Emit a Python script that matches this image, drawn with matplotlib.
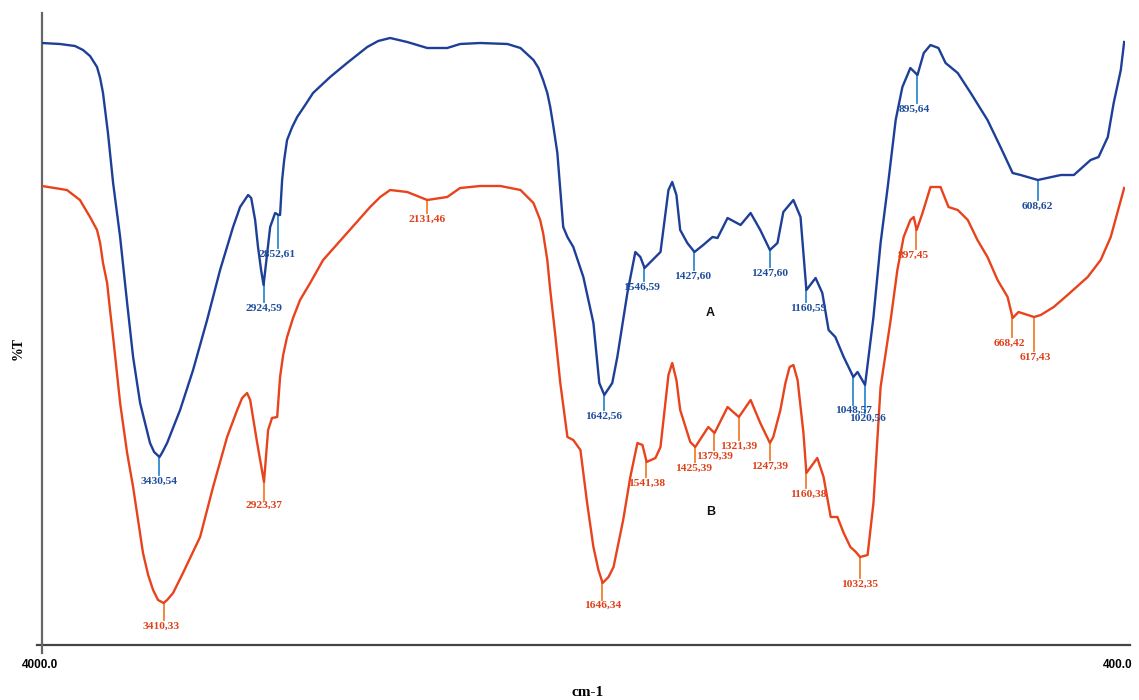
import numpy as np
import matplotlib
matplotlib.use("Agg")
import matplotlib.pyplot as plt
from matplotlib.lines import Line2D
from matplotlib.transforms import blended_transform_factory, ScaledTranslation

# ---------------- data (wavenumber cm-1, transmittance in arbitrary units) ----------------
wn_A = [4000, 3913, 3840, 3801, 3767, 3733, 3718, 3704, 3680, 3655, 3621, 3587, 3558,
        3524, 3476, 3456, 3430, 3418, 3393, 3330, 3267, 3199, 3136, 3073, 3039, 3000,
        2985, 2966, 2952, 2937, 2925, 2893, 2869, 2852, 2845, 2835, 2825, 2811, 2786,
        2762, 2723, 2685, 2602, 2520, 2422, 2369, 2311, 2228, 2131, 2034, 1986, 1938,
        1873, 1842, 1811, 1799, 1788, 1778, 1771, 1764, 1754, 1747, 1740, 1730, 1716,
        1692, 1668, 1654, 1642, 1623, 1611, 1587, 1568, 1556, 1546, 1520, 1508, 1489,
        1480, 1470, 1461, 1444, 1427, 1406, 1384, 1372, 1348, 1317, 1293, 1270, 1247,
        1229, 1215, 1191, 1174, 1160, 1138, 1122, 1107, 1091, 1071, 1048, 1038, 1020,
        1000, 983, 966, 947, 931, 912, 895, 880, 864, 845, 828, 799, 768, 728, 697,
        668, 649, 608, 553, 522, 482, 463, 441, 427, 410, 402]
T_A = [602, 601, 599, 595, 589, 578, 567, 552, 512, 462, 408, 342, 288,
       242, 202, 193, 188, 192, 202, 235, 275, 325, 375, 418, 438, 450,
       447, 425, 398, 375, 360, 418, 432, 430, 430, 465, 485, 505, 518,
       528, 540, 552, 568, 582, 598, 604, 607, 603, 597, 597, 601, 602,
       601, 597, 585, 577, 565, 552, 538, 520, 492, 455, 418, 408, 398,
       368, 322, 262, 250, 262, 288, 352, 393, 388, 377, 388, 393, 455,
       463, 450, 415, 402, 393, 400, 408, 407, 427, 420, 432, 415, 395,
       402, 433, 445, 428, 355, 367, 352, 315, 308, 288, 268, 273, 260,
       328, 402, 458, 525, 558, 577, 570, 592, 600, 597, 582, 572, 552, 525, 498,
       472, 470, 465, 470, 470, 485, 488, 508, 542, 575, 603]

wn_B = [4000, 3879, 3816, 3767, 3733, 3718, 3704, 3684, 3670, 3655, 3621, 3587, 3558,
        3510, 3485, 3461, 3437, 3410, 3393, 3364, 3316, 3233, 3170, 3102, 3053, 3029,
        3005, 2990, 2956, 2923, 2903, 2884, 2859, 2845, 2830, 2811, 2782, 2748, 2699,
        2636, 2520, 2408, 2359, 2311, 2228, 2131, 2034, 1986, 1938, 1890, 1842, 1811,
        1795, 1788, 1778, 1771, 1759, 1747, 1730, 1716, 1699, 1683, 1668, 1656, 1646,
        1632, 1620, 1597, 1580, 1563, 1551, 1541, 1520, 1508, 1489, 1480, 1470, 1461,
        1437, 1425, 1394, 1379, 1348, 1321, 1293, 1270, 1247, 1239, 1222, 1210, 1200,
        1191, 1181, 1167, 1160, 1134, 1119, 1102, 1086, 1071, 1055, 1042, 1032, 1014,
        1000, 983, 959, 943, 928, 912, 904, 897, 883, 864, 840, 821, 799, 775, 752,
        728, 704, 680, 668, 654, 617, 601, 570, 537, 489, 458, 434, 402]
T_B = [459, 455, 445, 428, 415, 402, 382, 362, 335, 308, 242, 192, 158,
       92, 70, 55, 45, 42, 45, 52, 72, 108, 158, 208, 235, 247,
       252, 245, 202, 163, 215, 227, 228, 268, 290, 308, 327, 345, 362,
       385, 412, 438, 448, 455, 453, 445, 448, 457, 459, 459, 455, 442,
       425, 412, 385, 355, 310, 262, 208, 205, 195, 142, 98, 75, 62,
       68, 78, 125, 168, 202, 200, 183, 187, 198, 270, 282, 265, 235,
       203, 198, 218, 212, 238, 228, 245, 222, 202, 208, 235, 262, 278,
       280, 265, 212, 172, 187, 168, 128, 128, 112, 98, 93, 88, 90,
       142, 258, 325, 375, 408, 425, 428, 415, 432, 458, 458, 438, 435, 425, 405,
       388, 365, 348, 327, 333, 328, 330, 338, 350, 368, 385, 408, 457]

peaks_A = [3430.54, 2924.59, 2852.61, 1642.56, 1546.59, 1427.60, 1247.60, 1160.59,
           1048.57, 1020.56, 895.64, 608.62]
peaks_B = [3410.33, 2923.37, 2131.46, 1646.34, 1541.38, 1425.39, 1379.39, 1321.39,
           1247.39, 1160.38, 1032.35, 897.45, 668.42, 617.43]

x_ticks = [4000, 400]
x_tick_labels = ["4000.0", "400.0"]

# ---------------- styles ----------------
blue_line = "#1d3f98"
blue_text = "#1f4c9c"
blue_tick = "#2f8ad0"
red_line = "#e8431c"
red_text = "#e0401a"
red_tick = "#f2802e"

# tick length (px) and horizontal text shift (px) per label
len_A = [18, 18, 33, 16, 14, 18, 18, 15, 28, 28, 28, 20]
dx_A = [0, 0, -1, 0, -3, -2, 0, 2, 0, 3, -3, 0]
len_B = [17, 18, 13, 17, 16, 15, 17, 23, 17, 17, 21, 20, 20, 34]
dx_B = [-2, 0, 0, 0, 0, -2, 0, 0, 0, 2, 0, -3, -3, 1]

W, H = 1139, 700
fig = plt.figure(figsize=(W / 100, H / 100), dpi=100)
ax = fig.add_axes([42 / W, 55 / H, (1125 - 42) / W, 632 / H])

r = 0.206 / 0.419


def fwd(w):
    w = np.asarray(w, dtype=float)
    return np.where(w > 2000, 2000 + (w - 2000) * r, w)


def inv(t):
    t = np.asarray(t, dtype=float)
    return np.where(t > 2000, 2000 + (t - 2000) / r, t)


ax.set_xscale("function", functions=(fwd, inv))
ax.set_xlim(4000, 400)
ax.set_ylim(0, 632)

ax.plot(wn_A, T_A, color=blue_line, lw=1.7, solid_joinstyle="round", zorder=3)
ax.plot(wn_B, T_B, color=red_line, lw=1.7, solid_joinstyle="round", zorder=3)

lab_font = dict(family="Liberation Serif", weight="bold", size=8.2)


def label_peaks(peaks, wn, T, lens, dxs, tick_c, text_c):
    wn_r = np.asarray(wn)[::-1]
    T_r = np.asarray(T)[::-1]
    for p, L, dx in zip(peaks, lens, dxs):
        y0 = np.interp(p, wn_r, T_r)
        ax.plot([p, p], [y0, y0 - L], color=tick_c, lw=1.3, zorder=2)
        txt = f"{p:.2f}".replace(".", ",")
        ax.annotate(txt, xy=(p, y0 - L), xytext=(dx * 0.72, -1.2),
                    textcoords="offset points", ha="center", va="top",
                    color=text_c, **lab_font)


label_peaks(peaks_A, wn_A, T_A, len_A, dx_A, blue_tick, blue_text)
label_peaks(peaks_B, wn_B, T_B, len_B, dx_B, red_tick, red_text)

ax.text(1389, 645 - 313, "A", ha="center", va="center", fontsize=9,
        fontweight="bold", family="Liberation Sans", color="#111111")
ax.text(1389, 645 - 512, "B", ha="center", va="center", fontsize=9,
        fontweight="bold", family="Liberation Sans", color="#111111")

for s in ax.spines.values():
    s.set_visible(False)
ax.add_line(Line2D([-0.005, 1.005], [0, 0], transform=ax.transAxes, color="#444444",
                   lw=1.6, clip_on=False))
ax.add_line(Line2D([0, 0], [-0.012, 1.0], transform=ax.transAxes, color="#666666",
                   lw=1.6, clip_on=False))

ax.set_yticks([])
ax.set_xticks([])
ax.xaxis.set_minor_locator(matplotlib.ticker.NullLocator())
trans = blended_transform_factory(ax.transData, ax.transAxes)
shifts = [-2, -7]
for xv, lbl, sh in zip(x_ticks, x_tick_labels, shifts):
    ax.text(xv, 0, lbl, transform=trans + ScaledTranslation(sh / 100, -20 / 100, fig.dpi_scale_trans),
            ha="center", va="center", fontsize=8.5, fontweight="bold",
            family="Liberation Sans", clip_on=False)

fig.text(18 / W, 1 - 348 / H, "%T", rotation=90, ha="center", va="center",
         fontsize=10, fontweight="bold", family="Liberation Serif")
fig.text(588 / W, 1 - 692 / H, "cm-1", ha="center", va="center",
         fontsize=11, fontweight="bold", family="Liberation Serif")

fig.savefig("out.png", dpi=100)
